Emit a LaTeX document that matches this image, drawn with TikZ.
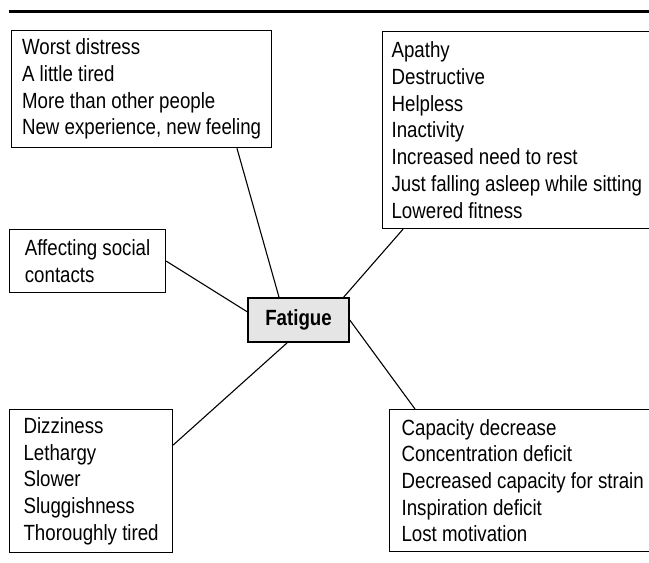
\documentclass[tikz,border=0pt]{standalone}
\usepackage{fontspec}
\setmainfont{Liberation Sans}[FakeStretch=0.85]
\usetikzlibrary{calc}
\definecolor{hubgray}{gray}{0.9}
\begin{document}
\begin{tikzpicture}[x=1pt,y=-1pt,
  txt/.style={font=\fontsize{22}{26.7}\selectfont},
  box/.style={txt, draw, line width=1.2pt, anchor=north west, align=flush left,
              inner xsep=10pt, inner ysep=0pt},
  link/.style={line width=1.1pt},
  hub/.style={draw, line width=1.5pt, fill=hubgray,
              font=\fontsize{22}{26.7}\selectfont\bfseries,
              minimum width=101pt, minimum height=44pt, inner sep=0pt}]
\useasboundingbox (0,0) rectangle (649,563);

% heading rule
\draw[line width=3pt] (9,11.5) -- (660,11.5);

% central concept
\node[hub] (fat) at (298.5,320) {Fatigue};

% surrounding groups of descriptions
\node[box, minimum width=260pt, minimum height=117pt] (tl) at (11,30)
  {Worst distress\\A little tired\\More than other people\\New experience, new feeling};
\node[box, minimum width=156pt, minimum height=63pt] (soc) at (9,229)
  {Affecting social\\contacts};
\node[box, inner xsep=9pt, text width=280pt, minimum height=197pt] (tr) at (382,31)
  {Apathy\\Destructive\\Helpless\\Inactivity\\Increased need to rest\\Just falling asleep while sitting\\Lowered fitness};
\node[box, minimum width=163pt, minimum height=143pt] (bl) at (9,409)
  {Dizziness\\Lethargy\\Slower\\Sluggishness\\Thoroughly tired};
\node[box, inner xsep=12pt, text width=280pt, minimum height=142pt] (br) at (389,409)
  {Capacity decrease\\Concentration deficit\\Decreased capacity for strain\\Inspiration deficit\\Lost motivation};

% connectors
\draw[link] ($(tl.south west)!0.865!(tl.south east)$) -- ($(fat.north west)!0.31!(fat.north east)$);
\draw[link] (soc.east) -- ($(fat.north west)!0.32!(fat.south west)$);
\draw[link] ($(tr.south west)+(21,0)$) -- ($(fat.north west)!0.94!(fat.north east)$);
\draw[link] (fat.east) -- ($(br.north west)+(26,0)$);
\draw[link] ($(fat.south west)!0.39!(fat.south east)$) -- ($(bl.north east)+(0,36)$);
\end{tikzpicture}
\end{document}
